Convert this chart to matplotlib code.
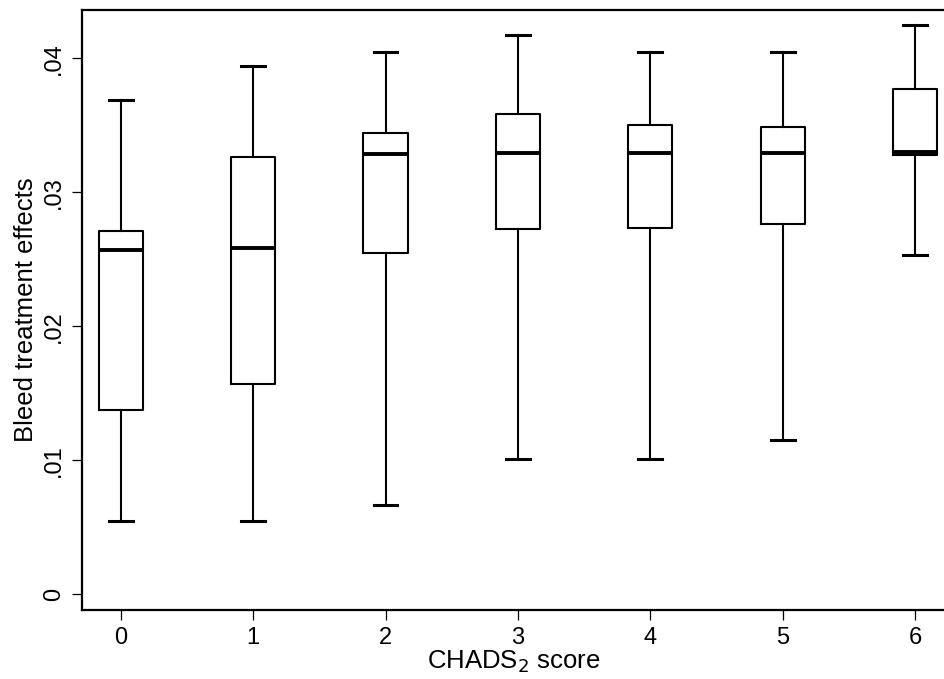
import matplotlib
matplotlib.use("Agg")
import matplotlib.pyplot as plt

# CHADS2 score groups and box-plot summaries
scores = [0, 1, 2, 3, 4, 5, 6]
whisker_lo = [0.00545, 0.00545, 0.00664, 0.0101, 0.0101, 0.01154, 0.02532]
q1 = [0.01375, 0.01567, 0.02545, 0.02724, 0.02731, 0.02761, 0.03278]
median = [0.02569, 0.02587, 0.03284, 0.03296, 0.03296, 0.03296, 0.03303]
q3 = [0.02711, 0.03266, 0.0344, 0.03582, 0.03502, 0.0349, 0.03771]
whisker_hi = [0.03689, 0.03945, 0.04049, 0.04172, 0.04049, 0.04049, 0.04249]

y_ticks = [0, 0.01, 0.02, 0.03, 0.04]
y_tick_labels = ["0", ".01", ".02", ".03", ".04"]

plt.rcParams["font.family"] = ["Liberation Sans", "DejaVu Sans"]

fig = plt.figure(figsize=(9.45, 6.79), dpi=100)
ax = fig.add_axes([0.0865, 0.1016, 0.9135, 0.8832])

stats = [dict(whislo=lo, q1=a, med=m, q3=b, whishi=hi, fliers=[])
         for lo, a, m, b, hi in zip(whisker_lo, q1, median, q3, whisker_hi)]
lw = 1.5
ax.bxp(stats, positions=scores, widths=0.335, showfliers=False,
       boxprops=dict(color="black", lw=lw),
       whiskerprops=dict(color="black", lw=lw),
       capprops=dict(color="black", lw=2.2),
       medianprops=dict(color="black", lw=2.8),
       capwidths=0.18)

ax.set_xlim(-0.295, 6.226)
ax.set_ylim(-0.00117, 0.04358)
ax.set_xticks(scores)
ax.set_xticklabels([str(s) for s in scores])
ax.set_yticks(y_ticks)
ax.set_yticklabels(y_tick_labels, rotation=90, va="center")

for side in ("left", "bottom", "top"):
    ax.spines[side].set_linewidth(1.6)
ax.spines["right"].set_visible(False)
ax.tick_params(axis="both", length=7, width=0.9, labelsize=17, pad=5)

ax.set_xlabel("CHADS$_2$ score", fontsize=18.5, labelpad=0)
ax.set_ylabel("Bleed treatment effects", fontsize=18.5, labelpad=4)

fig.savefig("out.png", dpi=100)
